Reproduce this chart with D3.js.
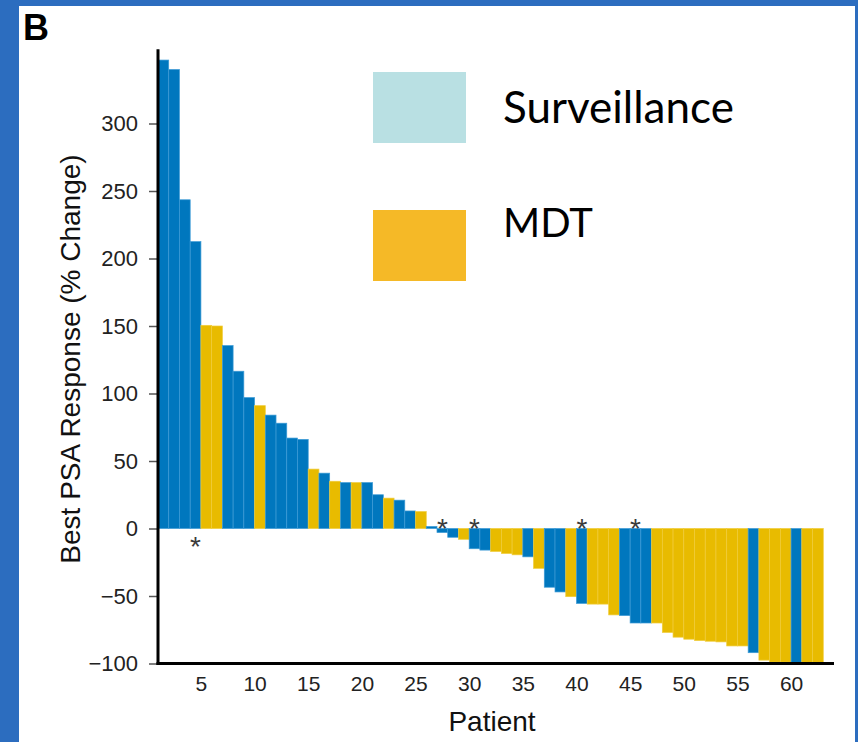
<!DOCTYPE html>
<html>
<head>
<meta charset="utf-8">
<script src="https://cdn.jsdelivr.net/npm/d3@7"></script>
<style>
  html, body { margin: 0; padding: 0; background: #2c6dbf; }
  svg { display: block; }
</style>
</head>
<body>
<svg id="chart" width="858" height="742"></svg>
<script>
// Best PSA response per patient, ordered from largest rise to largest fall
const patients = d3.range(1, 63);
const psaChange = [
  347, 340, 243.5, 212.5, 150.5, 150, 135.5, 116.5, 97, 91,
  84, 78, 67, 66, 44, 41, 35, 34, 34, 34,
  25, 22.5, 21, 13, 12.5, 1.5, -3, -6.5, -8, -15,
  -16, -17, -18.5, -19.5, -21, -29.5, -43.5, -47, -50.5, -55.5,
  -56, -56, -64, -64.5, -70, -70, -70, -77, -80.5, -82,
  -83, -83.5, -84, -87, -87, -92, -97.5, -99, -99, -100,
  -100, -100
];
// S = surveillance, M = metastasis-directed therapy
const arm = [
  "S","S","S","S","M","M","S","S","S","M",
  "S","S","S","S","M","S","M","S","M","S",
  "S","M","S","S","M","S","S","S","M","S",
  "S","M","M","M","S","M","S","S","M","S",
  "M","M","M","S","S","S","M","M","M","M",
  "M","M","M","M","M","S","M","M","M","S",
  "M","M"
];
// Patients marked with an asterisk
const flagged = [4, 27, 30, 40, 45];
const yTicks = [-100, -50, 0, 50, 100, 150, 200, 250, 300];
const xTicks = [5, 10, 15, 20, 25, 30, 35, 40, 45, 50, 55, 60];
const legendItems = ["Surveillance", "MDT"];

const barColor = { S: "#0077be", M: "#e8bb00" };
const barEdge = { S: "#3d9bd6", M: "#f0cc3a" };
const legendColor = { Surveillance: "#b9e0e3", MDT: "#f5b927" };

const svg = d3.select("#chart");
svg.append("rect").attr("x", 0).attr("y", 0).attr("width", 858).attr("height", 742).attr("fill", "#2c6dbf");
svg.append("rect").attr("x", 19).attr("y", 6).attr("width", 836).attr("height", 736).attr("fill", "#ffffff");

const x = d3.scaleLinear().domain([1, 64]).range([158, 834]);
const y = d3.scaleLinear().domain([-100, 355]).range([663.5, 49.25]);

// Bars: patient i spans [i, i+1]
svg.append("g").selectAll("rect")
  .data(patients)
  .join("rect")
  .attr("x", d => x(d))
  .attr("width", d => x(d + 1) - x(d))
  .attr("y", d => y(Math.max(0, psaChange[d - 1])))
  .attr("height", d => Math.abs(y(psaChange[d - 1]) - y(0)))
  .attr("fill", d => barColor[arm[d - 1]])
  .attr("stroke", d => barEdge[arm[d - 1]])
  .attr("stroke-width", 0.7);

// Asterisks on the opposite side of zero from the bar
svg.append("g").selectAll("text")
  .data(flagged)
  .join("text")
  .attr("x", d => x(d + 0.5))
  .attr("y", d => psaChange[d - 1] >= 0 ? y(0) + 27 : y(0) + 9)
  .attr("text-anchor", "middle")
  .attr("font-family", "Liberation Sans, Arial, sans-serif")
  .attr("font-size", 28)
  .attr("fill", "#3a3a3a")
  .text("*");

// Y axis
const yAxis = d3.axisLeft(y).tickValues(yTicks).tickSize(9).tickPadding(11)
  .tickFormat(d => d < 0 ? "\u2212" + Math.abs(d) : d);
const gy = svg.append("g").attr("transform", "translate(158,0)").call(yAxis);
gy.select(".domain").remove();
gy.selectAll(".tick line").attr("stroke", "#555").attr("stroke-width", 1.5);
gy.selectAll(".tick text")
  .attr("font-family", "Liberation Sans, Arial, sans-serif")
  .attr("font-size", 22)
  .attr("fill", "#222");

// X axis labels (no tick marks)
const xAxis = d3.axisBottom(x).tickValues(xTicks).tickSize(0).tickPadding(13);
const gx = svg.append("g").attr("transform", "translate(0,663.5)").call(xAxis);
gx.select(".domain").remove();
gx.selectAll(".tick text")
  .attr("font-family", "Liberation Sans, Arial, sans-serif")
  .attr("font-size", 21)
  .attr("fill", "#222");

// Axis lines
svg.append("line").attr("x1", x(1)).attr("x2", x(1)).attr("y1", y(355)).attr("y2", y(-100) + 1.5)
  .attr("stroke", "#000").attr("stroke-width", 3);
svg.append("line").attr("x1", x(1) - 1.5).attr("x2", x(64)).attr("y1", y(-100)).attr("y2", y(-100))
  .attr("stroke", "#000").attr("stroke-width", 3);

// Axis titles
svg.append("text")
  .attr("transform", "translate(80,359) rotate(-90)")
  .attr("text-anchor", "middle")
  .attr("font-family", "Liberation Sans, Arial, sans-serif")
  .attr("font-size", 28)
  .attr("fill", "#111")
  .text("Best PSA Response (% Change)");
svg.append("text")
  .attr("x", 492).attr("y", 731)
  .attr("text-anchor", "middle")
  .attr("font-family", "Liberation Sans, Arial, sans-serif")
  .attr("font-size", 28)
  .attr("fill", "#111")
  .text("Patient");

// Panel letter
svg.append("text")
  .attr("x", 23).attr("y", 40)
  .attr("font-family", "Liberation Sans, Arial, sans-serif")
  .attr("font-weight", "bold")
  .attr("font-size", 36)
  .attr("fill", "#000")
  .text("B");

// Legend
const legend = svg.append("g");
const legendY = d3.scalePoint().domain(legendItems).range([72, 210]);
legend.selectAll("rect")
  .data(legendItems)
  .join("rect")
  .attr("x", 373).attr("y", d => legendY(d))
  .attr("width", 93).attr("height", 71)
  .attr("fill", d => legendColor[d]);
legend.selectAll("text")
  .data(legendItems)
  .join("text")
  .attr("x", 503)
  .attr("y", d => legendY(d) + (d === "MDT" ? 27 : 51))
  .attr("font-family", "Lato, Open Sans, sans-serif")
  .attr("font-size", d => d === "MDT" ? 40 : 44)
  .attr("fill", "#000")
  .text(d => d);
</script>
</body>
</html>
